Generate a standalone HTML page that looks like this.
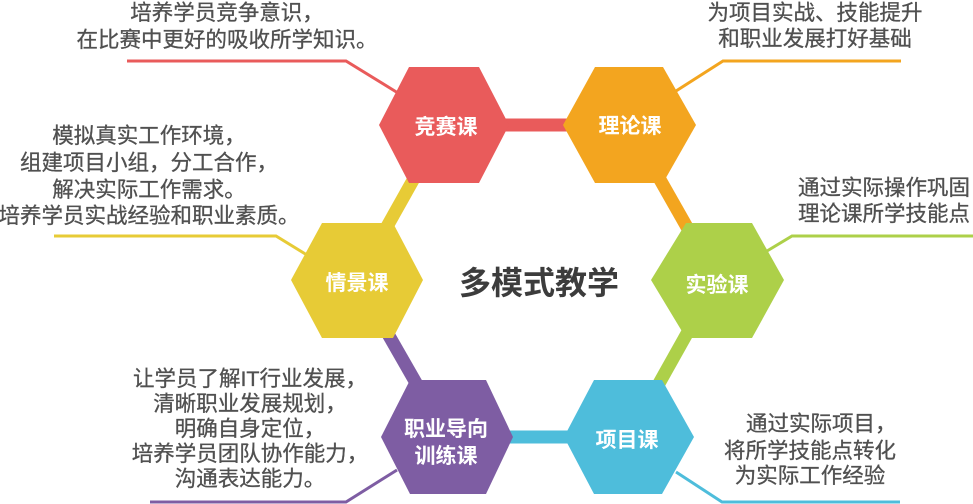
<!DOCTYPE html>
<html>
<head>
<meta charset="utf-8">
<style>
  html,body{margin:0;padding:0;background:#fff;}
  body{width:973px;height:504px;overflow:hidden;}
  svg{display:block;}
  .t{font-family:"Liberation Sans","Noto Sans CJK SC",sans-serif;font-size:21.5px;fill:#505050;stroke:#505050;stroke-width:0.3px;}
  .l{font-family:"Liberation Sans","Noto Sans CJK SC",sans-serif;font-size:21px;font-weight:700;fill:#fff;}
  .c{font-family:"Liberation Sans","Noto Sans CJK SC",sans-serif;font-size:32px;font-weight:700;fill:#3c3c3c;}
</style>
</head>
<body>
<svg width="973" height="504" viewBox="0 0 973 504" xmlns="http://www.w3.org/2000/svg">
  <!-- thick ring bars -->
  <g stroke-width="13" stroke-linecap="butt">
    <line x1="444" y1="125" x2="629" y2="125" stroke="#E95B5B"/>
    <line x1="629" y1="125" x2="717" y2="280" stroke="#F3A51F"/>
    <line x1="717" y1="280" x2="629" y2="437" stroke="#ADD049"/>
    <line x1="629" y1="437" x2="447" y2="437" stroke="#4EBDDB"/>
    <line x1="447" y1="437" x2="357" y2="280" stroke="#7E5DA3"/>
    <line x1="357" y1="280" x2="444" y2="125" stroke="#E7CB36"/>
  </g>

  <!-- thin connector lines -->
  <g fill="none" stroke-width="3">
    <polyline points="127,61 346,61 398,93" stroke="#E95B5B"/>
    <polyline points="676,91 723,61 901,61" stroke="#F3A51F"/>
    <polyline points="54,236 276,236 307,255" stroke="#E7CB36"/>
    <polyline points="767,251 792,236 973,236" stroke="#ADD049"/>
    <polyline points="397,470 346,502 150,502" stroke="#7E5DA3"/>
    <polyline points="676,472 722,502 900,502" stroke="#4EBDDB"/>
  </g>

  <!-- hexagons -->
  <polygon points="379,125 409,67 479,67 509,125 479,183 409,183" fill="#E95B5B"/>
  <polygon points="563,125 595,67 663,67 696,125 663,183 595,183" fill="#F3A51F"/>
  <polygon points="291,280 322,223 393,223 423,280 393,338 322,338" fill="#E7CB36"/>
  <polygon points="651,280 686,223 752,223 784,280 752,338 686,338" fill="#ADD049"/>
  <polygon points="564,437 594,380 662,380 694,437 662,494 594,494" fill="#4EBDDB"/>
  <polygon points="381,437 410,380 486,380 513,437 486,494 410,494" fill="#7E5DA3"/>

  <!-- hex labels -->
  <g text-anchor="middle">
    <text class="l" x="446" y="134">竞赛课</text>
    <text class="l" x="630" y="133">理论课</text>
    <text class="l" x="357" y="290">情景课</text>
    <text class="l" x="717" y="292">实验课</text>
    <text class="l" x="627" y="447">项目课</text>
    <text class="l" x="446" y="436">职业导向</text>
    <text class="l" x="446" y="463">训练课</text>
  </g>

  <!-- center title -->
  <text class="c" x="539" y="294" text-anchor="middle">多模式教学</text>

  <!-- description texts -->
  <g text-anchor="middle">
    <text class="t" x="227" y="20">培养学员竞争意识，</text>
    <text class="t" x="227" y="47">在比赛中更好的吸收所学知识。</text>

    <text class="t" x="815" y="20">为项目实战、技能提升</text>
    <text class="t" x="815" y="46">和职业发展打好基础</text>

    <text class="t" x="149" y="143">模拟真实工作环境，</text>
    <text class="t" x="149" y="170">组建项目小组，分工合作，</text>
    <text class="t" x="149" y="197">解决实际工作需求。</text>
    <text class="t" x="149" y="223">培养学员实战经验和职业素质。</text>

    <text class="t" x="884" y="195">通过实际操作巩固</text>
    <text class="t" x="884" y="221">理论课所学技能点</text>

    <text class="t" x="250" y="386">让学员了解IT行业发展，</text>
    <text class="t" x="250" y="411">清晰职业发展规划，</text>
    <text class="t" x="250" y="436">明确自身定位，</text>
    <text class="t" x="250" y="461">培养学员团队协作能力，</text>
    <text class="t" x="250" y="486">沟通表达能力。</text>

    <text class="t" x="810" y="458">将所学技能点转化</text>
    <text class="t" x="810" y="483">为实际工作经验</text>
  </g>
  <text class="t" x="746" y="431">通过实际项目，</text>
</svg>
</body>
</html>
